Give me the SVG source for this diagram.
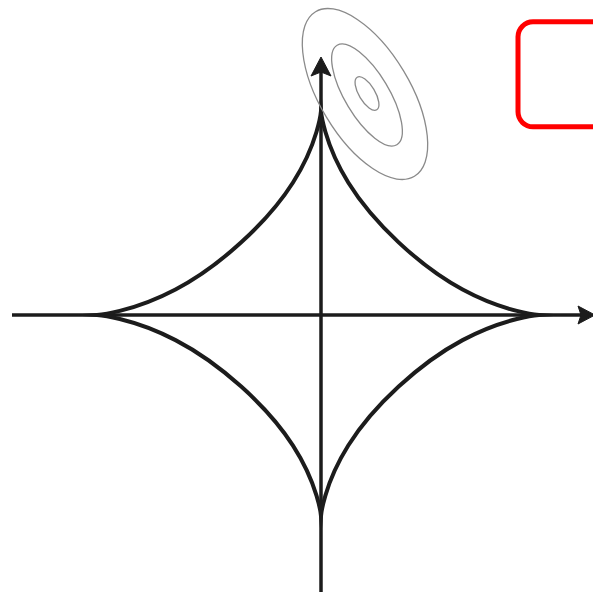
<svg xmlns="http://www.w3.org/2000/svg" width="593" height="593" viewBox="0 0 593 593">
  <style>
    .axis { stroke: #1c1c1c; stroke-width: 3.5; fill: none; }
    .head { fill: #1c1c1c; stroke: #1c1c1c; stroke-width: 1; stroke-linejoin: round; }
    .curve { stroke: #1c1c1c; stroke-width: 4; fill: none; stroke-linejoin: miter; stroke-miterlimit: 20; }
    .contour { stroke: #8a8a8a; stroke-width: 1.3; fill: none; }
    .box { stroke: #ff0000; stroke-width: 5; fill: none; }
  </style>
  <rect width="593" height="593" fill="#ffffff"/>
  <g id="connectors">
    <line class="axis" x1="12" y1="315" x2="582" y2="315"/>
    <polygon class="head" points="595,315 578,306 581,315 578,324"/>
    <line class="axis" x1="321" y1="592" x2="321" y2="70"/>
    <polygon class="head" points="321,57 311,76 321,72 331,76"/>
  </g>
  <g id="astroid">
    <path class="curve" d="M539,315 C539,315 505.4,312.63 462.6,289.5 C419.79,266.37 372.96,222.55 348.25,182.5 C323.54,142.44 321,111 321,111 C321,111 318.39,142.44 293,182.5 C267.61,222.55 219.49,266.37 175.51,289.5 C131.53,312.63 97,315 97,315 C97,315 131.53,317.34 175.51,340.13 C219.49,362.91 267.61,406.09 293,445.55 C318.39,485.02 321,516 321,516 C321,516 323.54,485.02 348.25,445.55 C372.96,406.09 419.79,362.91 462.6,340.13 C505.4,317.34 539,315 539,315 Z"/>
  </g>
  <g id="contours">
    <ellipse class="contour" cx="365" cy="94" rx="45" ry="96" transform="rotate(-31 365 94)"/>
    <ellipse class="contour" cx="367" cy="95" rx="22" ry="58" transform="rotate(-31 367 95)"/>
    <ellipse class="contour" cx="367" cy="93.5" rx="8" ry="19" transform="rotate(-31 367 93.5)"/>
  </g>
  <g id="redbox">
    <rect class="box" x="518" y="21.8" width="110" height="105" rx="15" ry="15"/>
  </g>
</svg>
